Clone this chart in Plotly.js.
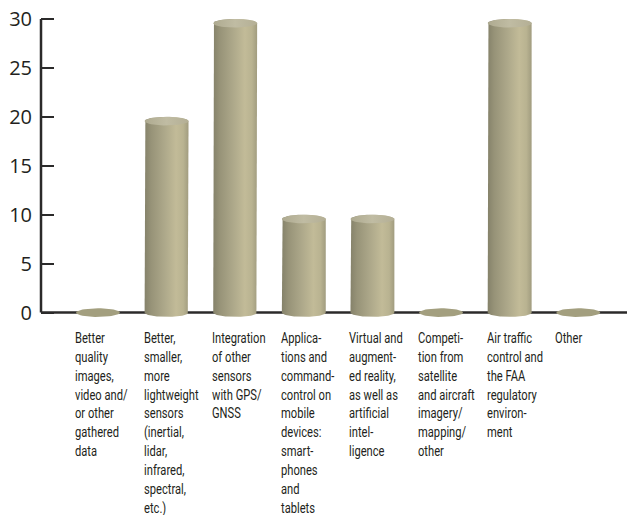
<!DOCTYPE html>
<html>
<head>
<meta charset="utf-8">
<script src="https://cdn.plot.ly/plotly-3.0.1.min.js"></script>
<style>
  html, body { margin: 0; padding: 0; background: #ffffff; }
  #chart { width: 627px; height: 515px; }
  /* narrow the category captions into a condensed face */
  #chart .annotation-text {
    transform-box: fill-box;
    transform-origin: 0 0;
    transform: scaleX(0.77);
  }
</style>
</head>
<body>
<div id="chart"></div>
<script>
// Survey: technology drivers, shown as cylinder columns
const categories = [
  ["Better", "quality", "images,", "video and/", "or other", "gathered", "data"],
  ["Better,", "smaller,", "more", "lightweight", "sensors", "(inertial,", "lidar,", "infrared,", "spectral,", "etc.)"],
  ["Integration", "of other", "sensors", "with GPS/", "GNSS"],
  ["Applica-", "tions and", "command-", "control on", "mobile", "devices:", "smart-", "phones", "and", "tablets"],
  ["Virtual and", "augment-", "ed reality,", "as well as", "artificial", "intel-", "ligence"],
  ["Competi-", "tion from", "satellite", "and aircraft", "imagery/", "mapping/", "other"],
  ["Air traffic", "control and", "the FAA", "regulatory", "environ-", "ment"],
  ["Other"]
];
const values = [0, 20, 30, 10, 10, 0, 30, 0];
const yTicks = [0, 5, 10, 15, 20, 25, 30];

// cylinder geometry in axis units
const R = 0.32;   // half width along x
const E = 0.44;   // half height of the end ellipses along y
const N = 48;     // points per half ellipse

const bodyScale = [
  [0.00, '#85826a'], [0.15, '#979378'], [0.45, '#ada88a'],
  [0.72, '#c2bb98'], [0.88, '#b9b391'], [1.00, '#a19c7f']
];
const capScale = [
  [0.00, '#aeaa90'], [0.50, '#c0bca3'], [1.00, '#b4af95']
];
const flatColor = '#a39f7f';

function halfEllipse(cx, cy, t0, t1, xs, ys) {
  for (let k = 0; k <= N; k++) {
    const t = t0 + (t1 - t0) * k / N;
    xs.push(cx + R * Math.cos(t));
    ys.push(cy + E * Math.sin(t));
  }
}

const traces = [];
values.forEach((v, i) => {
  const cx = i;
  if (v > 0) {
    const top = v - E;
    // side of the cylinder
    const bx = [cx - R], by = [0];
    bx.push(cx - R); by.push(top);
    halfEllipse(cx, top, Math.PI, 0, bx, by);
    bx.push(cx + R); by.push(0);
    halfEllipse(cx, 0, 0, -Math.PI, bx, by);
    traces.push({
      type: 'scatter', mode: 'lines', x: bx, y: by,
      fill: 'toself', line: { width: 0 }, hoverinfo: 'skip', showlegend: false,
      fillcolor: '#ada88a',
      fillgradient: { type: 'horizontal', start: cx - R, stop: cx + R, colorscale: bodyScale }
    });
    // top face
    const tx = [], ty = [];
    halfEllipse(cx, top, 0, 2 * Math.PI, tx, ty);
    traces.push({
      type: 'scatter', mode: 'lines', x: tx, y: ty,
      fill: 'toself', line: { width: 0 }, hoverinfo: 'skip', showlegend: false,
      fillcolor: '#bab59c',
      fillgradient: { type: 'horizontal', start: cx - R, stop: cx + R, colorscale: capScale }
    });
  } else {
    // a zero column is just its base disc
    const ex = [], ey = [];
    halfEllipse(cx, 0, 0, 2 * Math.PI, ex, ey);
    traces.push({
      type: 'scatter', mode: 'lines', x: ex, y: ey,
      fill: 'toself', line: { width: 0 }, hoverinfo: 'skip', showlegend: false,
      fillcolor: flatColor
    });
  }
});

const axisColor = '#2b2a2a';
const textColor = '#231f20';

const annotations = categories.map((lines, i) => ({
  x: i - R, xref: 'x', y: 0, yref: 'y',
  xanchor: 'left', yanchor: 'top', align: 'left',
  xshift: -3, yshift: -15, showarrow: false,
  text: lines.join('<br>'),
  font: { family: 'Roboto, "DejaVu Sans Condensed", sans-serif', size: 14.5, color: textColor }
}));

const layout = {
  width: 627, height: 515,
  margin: { l: 41, r: 0, t: 16, b: 197 },
  paper_bgcolor: '#ffffff', plot_bgcolor: '#ffffff',
  showlegend: false,
  xaxis: {
    range: [-0.83, 7.71], showgrid: false, zeroline: false,
    showticklabels: false, ticks: '', showline: false, fixedrange: true
  },
  yaxis: {
    range: [-0.55, 30.3], tickvals: yTicks, ticktext: yTicks.map(String),
    showgrid: false, zeroline: false, showline: false,
    ticks: 'inside', ticklen: 13, tickwidth: 2, tickcolor: axisColor,
    ticklabelstandoff: 8,
    tickfont: { family: '"Open Sans", sans-serif', size: 20, color: textColor },
    fixedrange: true
  },
  shapes: [
    { type: 'line', layer: 'below', xref: 'paper', x0: 0, x1: 0, yref: 'y', y0: 0, y1: 30,
      line: { color: axisColor, width: 2.5 } },
    { type: 'line', layer: 'below', xref: 'paper', x0: 0, x1: 1, yref: 'y', y0: 0, y1: 0,
      line: { color: axisColor, width: 2.5 } }
  ],
  annotations: annotations
};

Plotly.newPlot('chart', traces, layout, { displayModeBar: false, staticPlot: true });
</script>
</body>
</html>
